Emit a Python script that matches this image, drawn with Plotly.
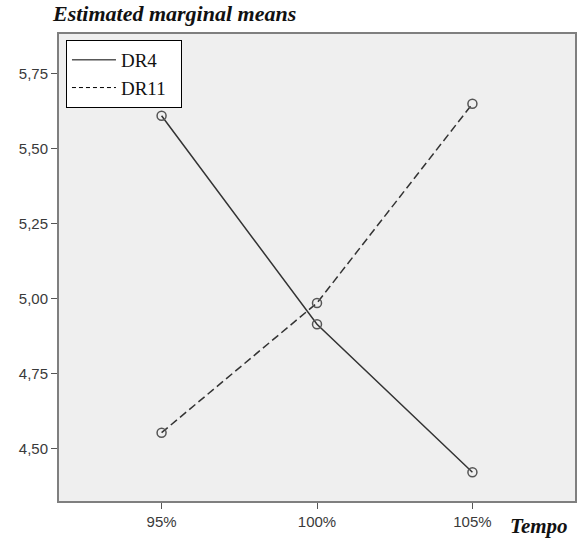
import plotly.graph_objects as go

categories = ["95%", "100%", "105%"]
dr4 = [5.61, 4.914, 4.42]
dr11 = [4.552, 4.985, 5.65]
series_names = ["DR4", "DR11"]

W, H = 580, 543
L, R, T, B = 59, 3, 34, 42
pw, ph = W - L - R, H - T - B

fig = go.Figure()
line_col = "#333333"
marker = dict(symbol="circle-open", size=9, color="#555555", line=dict(width=1.5, color="#555555"))

fig.add_trace(go.Scatter(x=categories, y=dr4, mode="lines+markers", showlegend=False,
                         line=dict(color=line_col, width=1.5), marker=marker))
fig.add_trace(go.Scatter(x=categories, y=dr11, mode="lines+markers", showlegend=False,
                         line=dict(color=line_col, width=1.5, dash="8px,4px"), marker=marker))
# legend entries (lines only)
pad = "\u00a0\u00a0"
fig.add_trace(go.Scatter(x=[None], y=[None], mode="lines", name=series_names[0] + pad, legendgroup="a",
                         line=dict(color="#000000", width=1)))
fig.add_trace(go.Scatter(x=[None], y=[None], mode="lines", name=series_names[1] + pad, legendgroup="b",
                         line=dict(color="#000000", width=1, dash="4px,3px")))

tickfont = dict(family="Liberation Sans", size=15, color="#3a3a3a")

fig.update_layout(
    width=W, height=H,
    margin=dict(l=L, r=R, t=T, b=B, pad=0),
    paper_bgcolor="white", plot_bgcolor="#efefef",
    separators=",.",
    showlegend=True,
    legend=dict(x=(66 - L) / pw, y=(H - B - 40) / ph, xanchor="left", yanchor="top",
                bgcolor="white", bordercolor="#000000", borderwidth=1,
                font=dict(family="Liberation Serif", size=19, color="#111111"),
                tracegroupgap=0, itemwidth=44),
    xaxis=dict(type="category", range=[-0.66, 2.66], showgrid=False, zeroline=False,
               showline=True, linecolor="#7f7f7f", linewidth=2, mirror=True,
               ticks="outside", ticklen=6, tickcolor="#555555", tickwidth=1,
               tickfont=tickfont),
    yaxis=dict(range=[4.324, 5.883], tickvals=[4.5, 4.75, 5.0, 5.25, 5.5, 5.75], tickformat=".2f",
               showgrid=False, zeroline=False,
               showline=True, linecolor="#7f7f7f", linewidth=2, mirror=True,
               ticks="outside", ticklen=6, tickcolor="#555555", tickwidth=1,
               tickfont=tickfont),
    annotations=[
        dict(text="<b><i>Estimated marginal means</i></b>", xref="paper", yref="paper",
             x=(50 - L) / pw, y=(H - B - 14) / ph, xanchor="left", yanchor="middle",
             showarrow=False, font=dict(family="Liberation Serif", size=22, color="#111111")),
        dict(text="<b><i>Tempo</i></b>", xref="paper", yref="paper",
             x=(541 - L) / pw, y=(H - B - 526) / ph, xanchor="center", yanchor="middle",
             showarrow=False, font=dict(family="Liberation Serif", size=21, color="#111111")),
    ],
)

fig.write_html("out.html", config={"displayModeBar": False},
               post_script="document.body.style.margin='0';")
